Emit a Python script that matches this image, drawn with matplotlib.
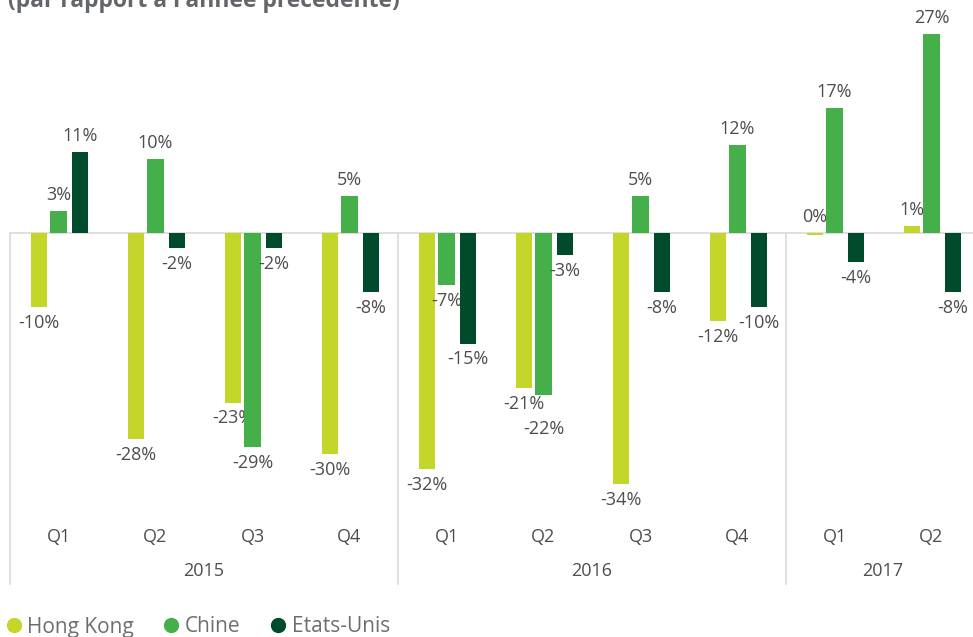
import numpy as np
import matplotlib
matplotlib.use('Agg')
import matplotlib.pyplot as plt
from matplotlib.lines import Line2D

plt.rcParams['font.family'] = ['Open Sans', 'DejaVu Sans']

quarters = ['Q1', 'Q2', 'Q3', 'Q4', 'Q1', 'Q2', 'Q3', 'Q4', 'Q1', 'Q2']
years = ['2015', '2016', '2017']
year_sizes = [4, 4, 2]
series = ['Hong Kong', 'Chine', 'Etats-Unis']
hong_kong = [-10, -28, -23, -30, -32, -21, -34, -12, -0.3, 1]
chine = [3, 10, -29, 5, -7, -22, 5, 12, 17, 27]
etats_unis = [11, -2, -2, -8, -15, -3, -8, -10, -4, -8]
colors = ['#c4d62a', '#45b04a', '#004b2c']

W, H = 973, 637
fig = plt.figure(figsize=(W / 100, H / 100), dpi=100)
# axes from x=10px to 980px (runs past the right edge), y=0..500px
ax = fig.add_axes([10 / W, (H - 500) / H, 970 / W, 500 / H])
ppu = 7.37  # pixels per percent
ax.set_ylim(-(500 - 233) / ppu, 233 / ppu)
ax.set_xlim(-0.5, len(quarters) - 0.5)
ax.axis('off')

x = np.arange(len(quarters))
offsets = [-0.2, 0.0, 0.222]
bw = 0.172
grey = '#4d4d4d'
for i, (vals, col) in enumerate(zip([hong_kong, chine, etats_unis], colors)):
    xs = x + offsets[i]
    ax.bar(xs, vals, width=bw, color=col, zorder=3)
    for j, (xi, v) in enumerate(zip(xs, vals)):
        lab = f'{int(round(v))}%'
        if round(v) >= 0:
            ax.annotate(lab, (xi, max(v, 0)), xytext=(0, 5), textcoords='offset points',
                        ha='center', va='bottom', fontsize=13, color=grey)
        else:
            # Chine 2016 Q2 label sits lower to clear the Hong Kong one
            dy = -18 if (i == 1 and j == 5) else -5
            ax.annotate(lab, (xi, v), xytext=(0, dy), textcoords='offset points',
                        ha='center', va='top', fontsize=13, color=grey)

ax.axhline(0, color='#d9d9d9', lw=1.2, zorder=2)

# category axis: quarter labels, year labels, group separators
y_sep = -(584 - 233) / ppu
y_q = -(537 - 233) / ppu
y_yr = -(571 - 233) / ppu
for xi, q in zip(x, quarters):
    ax.text(xi, y_q, q, ha='center', va='center', fontsize=13, color=grey, clip_on=False)
start = 0
bounds = [-0.5]
for yr, n in zip(years, year_sizes):
    ax.text(start + (n - 1) / 2, y_yr, yr, ha='center', va='center', fontsize=13,
            color=grey, clip_on=False)
    start += n
    bounds.append(start - 0.5)
for b in bounds:
    ax.plot([b, b], [0, y_sep], color='#d9d9d9', lw=1.2, clip_on=False)

fig.text(8 / W, 1 - 13 / H, "(par rapport à l'année précédente)", ha='left', va='bottom',
         fontsize=16.5, fontweight='bold', color='#63666a')

handles = [Line2D([], [], marker='o', ls='', markersize=10, color=c) for c in colors]
leg = fig.legend(handles, series, loc='center left', bbox_to_anchor=(0.0, (H - 627) / H),
                 ncol=3, frameon=False, fontsize=15, handlelength=0.7, handletextpad=0.3,
                 columnspacing=1.45, borderaxespad=0, borderpad=0.3)
for t in leg.get_texts():
    t.set_color('#6d6e71')

fig.savefig('out.png', dpi=100)
